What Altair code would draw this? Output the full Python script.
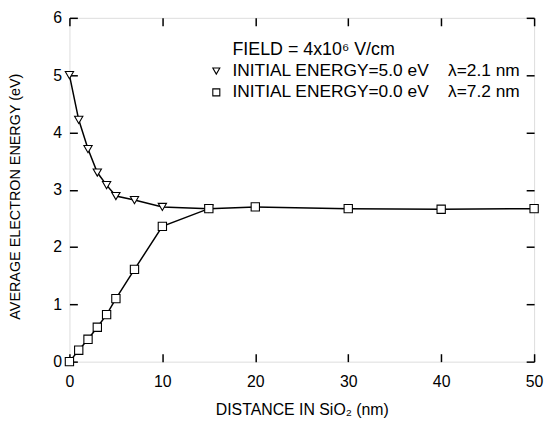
import altair as alt
import pandas as pd

# ---- data ----
x_hot = [0, 1, 2, 3, 4, 5, 7, 10, 15]
y_hot = [5.0, 4.22, 3.71, 3.30, 3.08, 2.89, 2.82, 2.70, 2.67]

x_cold = [0, 1, 2, 3, 4, 5, 7, 10, 15, 20, 30, 40, 50]
y_cold = [0.0, 0.20, 0.39, 0.60, 0.82, 1.10, 1.61, 2.36, 2.67, 2.70, 2.67, 2.66, 2.67]

NB = "\u00a0"
label_hot = "INITIAL ENERGY=5.0 eV" + NB * 4 + "\u03bb=2.1 nm"
label_cold = "INITIAL ENERGY=0.0 eV" + NB * 4 + "\u03bb=7.2 nm"
legend_title = "\u200b" + NB * 5 + "FIELD = 4x10\u2076 V/cm"

x_ticks = [0, 10, 20, 30, 40, 50]
y_ticks = [0, 1, 2, 3, 4, 5, 6]
x_title = "DISTANCE IN SiO\u2082 (nm)"
y_title = "AVERAGE ELECTRON ENERGY (eV)"

df = pd.concat([
    pd.DataFrame({"x": x_hot, "y": y_hot, "series": label_hot}),
    pd.DataFrame({"x": x_cold, "y": y_cold, "series": label_cold}),
], ignore_index=True)

FONT = "Liberation Sans"
xs = alt.Scale(domain=[0, 50], nice=False, zero=False)
ys = alt.Scale(domain=[0, 6], nice=False, zero=False)
shape_scale = alt.Scale(domain=[label_hot, label_cold], range=["triangle-down", "square"])
base = alt.Chart(df)

line = base.mark_line(color="black", strokeWidth=1.5).encode(
    x=alt.X("x:Q", scale=xs, axis=None),
    y=alt.Y("y:Q", scale=ys, axis=None),
    detail="series:N",
)

main_x_axis = alt.Axis(
    orient="bottom", values=x_ticks, ticks=False, domain=False, grid=False,
    labelFont=FONT, labelFontSize=16, labelColor="black", labelPadding=12,
    labelFlush=False,
    title=x_title, titleFont=FONT, titleFontSize=16, titleFontWeight="normal",
    titleColor="black", titleX=234.5, titleY=48, titleBaseline="middle",
)
main_y_axis = alt.Axis(
    orient="left", values=y_ticks, ticks=False, domain=False, grid=False,
    labelFont=FONT, labelFontSize=16, labelColor="black", labelPadding=8,
    labelFlush=False,
    title=y_title, titleFont=FONT, titleFontSize=14.5, titleFontWeight="normal",
    titleColor="black", titleX=-54, titleY=180, titleBaseline="middle",
    titleAngle=270,
)

# visible markers: white-filled, black outline
pts = base.mark_point(
    fill="white", stroke="black", fillOpacity=1, strokeWidth=1.1, size=70, opacity=1,
).encode(
    x=alt.X("x:Q", scale=xs, axis=main_x_axis),
    y=alt.Y("y:Q", scale=ys, axis=main_y_axis),
    shape=alt.Shape("series:N", scale=shape_scale, legend=None),
)

# layer that only carries the legend
leg = base.mark_point(color="black", opacity=0).encode(
    x=alt.X("x:Q", scale=xs, axis=None),
    y=alt.Y("y:Q", scale=ys, axis=None),
    shape=alt.Shape(
        "series:N", scale=shape_scale,
        legend=alt.Legend(
            orient="none", legendX=139.5, legendY=23, padding=0,
            title=legend_title, titleFont=FONT, titleFontSize=18,
            titleFontWeight="normal", titleColor="black", titlePadding=4,
            titleLimit=400,
            labelFont=FONT, labelFontSize=17.5, labelColor="black",
            labelOffset=7.5, labelLimit=400, rowPadding=2.5,
            symbolStrokeColor="black", symbolFillColor="white",
            symbolStrokeWidth=1.1, symbolSize=50, symbolOpacity=1,
        ),
    ),
)


def tick_axis(orient, vals):
    return alt.Axis(
        orient=orient, values=vals, offset=-8, tickSize=8, tickWidth=1.5,
        tickColor="black", labels=False, domain=False, grid=False, title="",
    )


ticks_bl = base.mark_point(opacity=0).encode(
    x=alt.X("x:Q", scale=xs, axis=tick_axis("bottom", x_ticks)),
    y=alt.Y("y:Q", scale=ys, axis=tick_axis("left", y_ticks)),
)
ticks_tr = base.mark_point(opacity=0).encode(
    x=alt.X("x:Q", scale=xs, axis=tick_axis("top", x_ticks)),
    y=alt.Y("y:Q", scale=ys, axis=tick_axis("right", y_ticks)),
)

chart = (
    alt.layer(line, leg, pts, ticks_bl, ticks_tr)
    .resolve_axis(x="independent", y="independent")
    .properties(
        width=469, height=347,
        autosize=alt.AutoSizeParams(type="none"),
        padding={"left": 62, "top": 8, "right": 12, "bottom": 61},
    )
    .configure_view(stroke="black", strokeWidth=1.5)
    .configure(background="white")
)

chart.save("out.html", embed_options={"renderer": "svg", "actions": False})
